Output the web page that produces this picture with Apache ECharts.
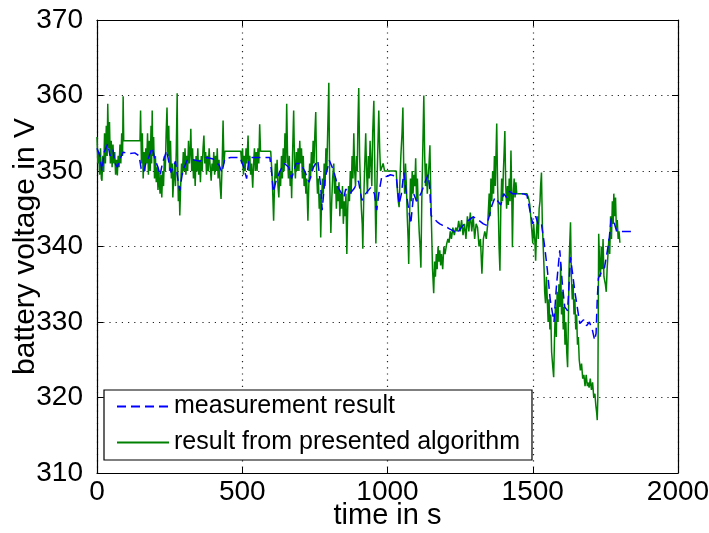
<!DOCTYPE html>
<html><head><meta charset="utf-8">
<script src="https://cdn.jsdelivr.net/npm/echarts@6/dist/echarts.min.js"></script>
<style>html,body{margin:0;padding:0;background:#fff}#c{width:709px;height:533px}</style>
</head><body><div id="c"></div>
<script>
var xTicks = [0, 500, 1000, 1500, 2000];
var yTicks = [310, 320, 330, 340, 350, 360, 370];
var seriesNames = ['measurement result', 'result from presented algorithm'];

// measurement result (blue dashed)
var measTime = [0,10,17,25,37,45,55,62,70,78,90,110,130,145,152,160,168,175,190,200,210,217,225,240,248,255,262,270,278,285,295,310,330,355,378,400,420,430,440,460,492,505,515,522,530,560,595,602,607,615,630,645,660,670,685,700,715,730,745,760,770,775,785,800,815,830,850,856,870,884,900,912,925,942,955,963,970,980,1000,1010,1030,1035,1040,1048,1056,1065,1080,1090,1100,1115,1131,1140,1145,1150,1160,1170,1180,1190,1200,1210,1220,1230,1238,1250,1260,1270,1280,1290,1297,1310,1320,1330,1342,1350,1360,1370,1380,1390,1400,1410,1420,1430,1445,1465,1480,1490,1500,1510,1520,1530,1541,1550,1560,1573,1582,1593,1602,1610,1620,1630,1645,1662,1675,1685,1695,1705,1713,1718,1722,1726,1735,1747,1755,1763,1770,1778,1785,1790,1810,1850];
var measVolt = [353,352,350,352.5,353.6,352,352.8,351,350.5,351.5,352.5,352.3,352.4,352,350.3,349.8,351,351.5,353.1,351.5,350.5,349.4,351,352.7,351,349.8,350.5,351.3,349,347.4,350,351.4,351.5,351.3,351.8,351.6,350.8,349.8,351.6,351.8,351.8,350.5,349,351.2,351.8,351.8,351.8,349.5,347.2,348.5,350,351,350.5,349,351,351,350,348.5,350.5,351.4,348,344.8,349,351.4,350,347.8,346.5,347.6,347,347.6,348.7,346.1,347,347.8,347,344.8,347,349.2,349.3,349.5,349.3,347.5,345.6,347,349.8,347,343,347,346,347,348.7,349.5,348,344.1,343.7,343.3,343,342.8,342.7,342.4,342.2,342,341.7,342.3,342.8,343.2,343.5,343.8,343.9,343.6,343.3,343,342.8,344,345.5,346.5,346,345.5,347,346.5,347.3,347,347,347,346.8,344.8,343,344,342.8,343,340,337,333,330,335,339.5,335,332,331.5,338.6,334,329.8,330.3,329.5,330,329,327.6,328.5,333,335.8,336.5,337.2,339,341,343.7,343.5,342.5,342,342,342];

// result from presented algorithm (green)
var algTime = [0,3,6,9,12,15,17,20,23,26,29,32,35,37,40,43,46,49,52,55,58,61,64,67,70,73,76,79,82,85,88,90,92,100,120,148,150,153,156,159,162,165,168,171,174,177,180,183,186,188,190,192,195,198,201,204,207,210,213,217,220,223,226,229,232,235,238,241,244,247,250,253,256,259,261,264,267,270,273,276,278,280,283,285,288,291,294,297,300,303,306,309,312,315,318,321,323,326,329,332,335,338,341,344,347,350,353,356,359,362,365,368,371,374,377,380,383,386,389,393,396,399,402,405,408,411,414,417,420,424,427,430,432,434,437,440,470,495,498,501,504,507,510,513,516,520,523,526,529,532,536,539,542,545,548,551,554,557,560,563,598,602,605,608,611,614,617,620,623,626,629,632,635,638,641,644,647,650,653,656,659,662,665,668,670,673,675,677,680,683,686,689,692,695,698,701,704,707,710,713,716,719,722,726,729,732,735,738,741,744,747,750,753,756,759,762,765,768,770,773,776,779,782,785,788,791,794,798,801,803,805,808,811,815,818,821,824,827,830,833,836,839,842,845,848,851,854,857,860,863,866,869,872,875,878,881,884,887,890,893,896,898,901,904,907,910,913,915,918,921,925,928,931,934,937,940,943,946,949,953,956,958,960,963,966,970,973,976,980,985,990,1030,1033,1037,1040,1043,1046,1050,1053,1056,1059,1062,1065,1068,1071,1073,1076,1079,1082,1085,1088,1091,1094,1097,1100,1103,1106,1109,1112,1115,1118,1121,1125,1128,1131,1134,1137,1140,1143,1146,1149,1152,1155,1159,1162,1165,1168,1171,1174,1177,1180,1183,1186,1190,1194,1198,1204,1208,1212,1216,1220,1225,1230,1235,1240,1245,1250,1255,1260,1265,1270,1275,1280,1285,1290,1295,1300,1305,1310,1315,1320,1325,1330,1335,1340,1345,1350,1353,1356,1359,1362,1365,1368,1371,1374,1376,1379,1382,1384,1387,1390,1393,1396,1399,1401,1404,1407,1410,1413,1416,1419,1422,1425,1428,1430,1433,1436,1439,1442,1445,1480,1485,1490,1493,1497,1500,1503,1507,1510,1513,1516,1519,1522,1525,1527,1530,1533,1536,1539,1541,1544,1547,1550,1553,1556,1559,1562,1565,1569,1572,1575,1578,1581,1584,1587,1590,1593,1596,1599,1602,1605,1608,1611,1614,1617,1620,1623,1625,1627,1630,1633,1636,1639,1642,1645,1648,1651,1654,1657,1660,1664,1668,1672,1676,1680,1684,1688,1690,1694,1698,1702,1706,1710,1714,1717,1720,1722,1724,1727,1730,1733,1736,1739,1742,1745,1750,1753,1756,1759,1762,1765,1768,1771,1774,1777,1779,1782,1785,1788,1791,1794,1797,1800];
var algVolt = [354.5,351,352.5,349.5,353,349,348.7,352,350,355,351,356,352,358.9,353,356.5,351,354,350.5,353.5,351,352.5,349.5,351.5,349.4,352,350.5,353.5,351,355,352,359.9,354,354,354,354,358,351,355,349,352.5,350,353,351,355,349.5,354,350,356,351,358,352,354.5,349,352,348.5,350.5,347.5,350,347,349.5,346.5,350,348,352,350,355,358.4,352,356,350,354,349,351,346.5,349,351,348,353,360.3,350,346,348,344.1,348,351,349.5,352.5,350,353,349.5,352,350,354,351,353,355.6,350,353,349,351.5,348,352,350,353,349.5,351.5,348.5,352,350,353,354.7,351,352.5,349.5,352,350,353,351,348.7,351,350,352.5,349.5,352,350,353,349,351.5,348,346.3,350,353,356.7,351,352.6,352.6,352.6,351,353,349.5,352,350,353,351,354.7,350,352,349.5,351,347.8,351,353,350,352.5,350,353,351,356.2,352.6,352.6,350,347,343.4,348,351,349,351.5,348,346.5,350,348,352,349,353,350,355,351,358.9,352,349,352,348,350,346.4,352,355,358,351,349,352.5,350,353,350,354,351,353,349,352,348,350,347,349,343.4,348,351,349,352.5,350,354,351,355,357.8,350,347,349,345,347,341.2,346,349,347,351,348,353,350,355,361.7,349,345,341.8,346,349,351,347,349,345,348,346,348.5,344,347,345,348,343,346,344,347,339,345,348,346,350,347,352,349,355,350,348,352,350,356,361,352,348,345,343,339.7,346,350,355,350,347,352,349,354,351,348,355,359.3,351,345,340.4,347,352,358,353,350,350,351,350,350,348,346,345.2,349,352,355,358.4,350,347,351,348,344,341,337.7,344,349,346,350,347,349.5,348,351.7,346,349,345,342,340,337.2,346,352,360,352,348,351,347,349,351,353.4,347,342,337,333.8,338,336,339,337,340,338,339.5,337.5,339,337,340,339,340.4,341,340.5,342,341,342.5,341.5,342.5,342,343.4,342,343.5,341.5,343,341,344,342,344.5,342,344,341,343,342.5,340,341,336.4,341,342,341,343,347,344,349,346,350,347,352,348,353,356.3,348,344,340,336.8,345,349,346,350,352,355.3,348,345,348,345.5,349,346,352.7,346,339.9,347,349,346.5,348.5,347,347,346.5,345.5,344,342,340.4,343,341,338.1,342,344,341,345,346,348,349.8,343,340,337,334,332.5,336,333,330,333,329,331,326,324,322.7,328,332,328,334,330,335,332,337.7,331,334,329,332,327,330,326,324,331,337,340,343.2,336,333,335,331,333,329,331,327,328,325,323.6,324.5,322.5,323,321.5,323,321.5,322,321.3,322.5,321,322,320,320.5,319,318,317,320,341.7,338,336,340,337,341,336,335,334,337,339,341,339,344,341,346,343,347,344,346.5,342,343.5,341,342,340.5,340.4];

function zip(t, v) { return t.map(function (x, i) { return [x, v[i]]; }); }

var chart = echarts.init(document.getElementById('c'), null, {renderer: 'canvas'});
var font = 'Liberation Sans, Arial, sans-serif';
var gridDot = {show: true, lineStyle: {color: '#222', width: 1.2, type: [1.2, 5]}};
function plain(v) { return String(v); }
function xAx(pos, labels) {
  return {type: 'value', position: pos, min: xTicks[0], max: xTicks[xTicks.length - 1], interval: 500,
    axisLine: {show: true, onZero: false, lineStyle: {color: '#000', width: 1.2}},
    axisTick: {show: true, inside: true, length: 6, lineStyle: {color: '#000'}},
    axisLabel: {show: labels, color: '#000', fontFamily: font, fontSize: 28, margin: 5, formatter: plain},
    splitLine: labels ? gridDot : {show: false},
    name: labels ? 'time in s' : '', nameLocation: 'middle', nameGap: 28, nameMoveOverlap: false,
    nameTextStyle: {color: '#000', fontFamily: font, fontSize: 29}};
}
function yAx(pos, labels) {
  return {type: 'value', position: pos, min: yTicks[0], max: yTicks[yTicks.length - 1], interval: 10,
    axisLine: {show: true, onZero: false, lineStyle: {color: '#000', width: 1.2}},
    axisTick: {show: true, inside: true, length: 6, lineStyle: {color: '#000'}},
    axisLabel: {show: labels, color: '#000', fontFamily: font, fontSize: 28, margin: 14, formatter: plain},
    splitLine: labels ? gridDot : {show: false},
    name: labels ? 'battery voltage in V' : '', nameLocation: 'middle', nameGap: 56, nameMoveOverlap: false,
    nameTextStyle: {color: '#000', fontFamily: font, fontSize: 30}};
}
chart.setOption({
  animation: false,
  backgroundColor: '#fff',
  grid: {left: 97, right: 31, top: 20, bottom: 60, containLabel: false, outerBoundsMode: 'none'},
  xAxis: [xAx('bottom', true), xAx('top', false)],
  yAxis: [yAx('left', true), yAx('right', false)],
  legend: {
    left: 104, top: 390, orient: 'vertical',
    backgroundColor: '#fff', borderColor: '#000', borderWidth: 1.2, borderRadius: 0,
    padding: [4, 12, 5, 12], itemGap: 11, itemWidth: 52, itemHeight: 26,
    itemStyle: {opacity: 0},
    textStyle: {color: '#000', fontFamily: font, fontSize: 25},
    data: seriesNames
  },
  series: [
    {name: seriesNames[1], type: 'line', data: zip(algTime, algVolt), symbol: 'none', z: 2,
      lineStyle: {color: '#008000', width: 1.5}, itemStyle: {color: '#008000'}},
    {name: seriesNames[0], type: 'line', data: zip(measTime, measVolt), symbol: 'none', z: 3,
      lineStyle: {color: '#0000ff', width: 1.5, type: [9, 5]}, itemStyle: {color: '#0000ff'}}
  ]
});
</script></body></html>
